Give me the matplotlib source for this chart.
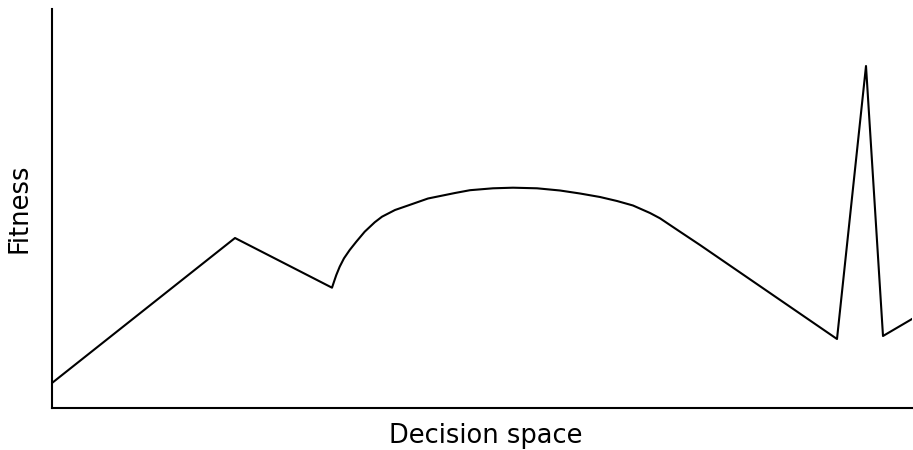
import matplotlib
matplotlib.use("Agg")
import matplotlib.pyplot as plt

# Decision-space positions and fitness values
x_vals = [0, 183, 280, 282, 284.3, 287.7, 292, 297.7, 304.3, 312.7, 322.7, 330, 343, 356, 376,
          403, 418, 441, 461, 485, 508, 528, 548, 565, 581, 598, 608, 615, 628, 648,
          785, 814, 831, 860]
y_vals = [25, 170, 120.3, 126.3, 133, 141.3, 149.7, 158, 166.3, 176.3, 185.7, 191.3, 198, 202.5, 209.5,
          215, 217.8, 219.7, 220.3, 219.7, 217.5, 214.5, 211, 207, 202.5, 195, 189.7, 185, 176.3, 163,
          69, 342, 72, 89]

fig = plt.figure(figsize=(9.13, 4.5), dpi=100)
ax = fig.add_axes([52/913, 42/450, 860/913, 399/450])
ax.plot(x_vals, y_vals, color="black", linewidth=1.5)
ax.set_xlim(0, 860)
ax.set_ylim(0, 399)
ax.spines["top"].set_visible(False)
ax.spines["right"].set_visible(False)
ax.spines["left"].set_linewidth(1.5)
ax.spines["bottom"].set_linewidth(1.5)
ax.set_xticks([])
ax.set_yticks([])
ax.set_xlabel("Decision space", fontsize=18.5, labelpad=11)
ax.set_ylabel("Fitness", fontsize=18.5, labelpad=14)
ax.xaxis.set_label_coords((486 - 52) / 860, -0.03, transform=None) if False else None
ax.xaxis.label.set_x((486 - 52) / 860)
fig.savefig("out.png", dpi=100)
